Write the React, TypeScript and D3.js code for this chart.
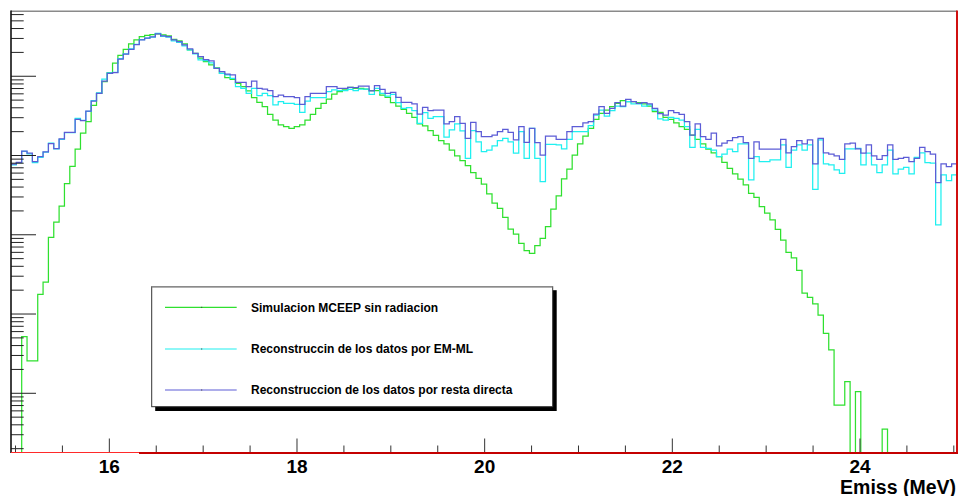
import React from 'react';
import * as d3 from 'd3';

// Histogram binning (Emiss, MeV) and log-axis range
const X_MIN = 14.952;
const X_MAX = 25.034;
const N_BINS = 177;
const Y_MIN = 1.79;
const Y_MAX = 6.6e5;

// Simulacion MCEEP sin radiacion (green)
const simulacionMCEEP = [
  0, 0, 51.8, 25.6, 25.6, 177, 253, 929, 1440, 2290,
  4410, 7320, 12000, 19100, 26700, 43000, 60900, 85300, 111000, 146000,
  184000, 219000, 256000, 287000, 316000, 329000, 335000, 342000, 332000, 323000,
  293000, 279000, 256000, 215000, 195000, 169000, 153000, 139000, 128000, 109000,
  95900, 91500, 81500, 73800, 65200, 53600, 46900, 41300, 33100, 28000,
  24300, 23100, 22000, 23100, 24300, 28000, 33100, 39400, 45600, 51600,
  59700, 63800, 67100, 72600, 70500, 70500, 69000, 65700, 65700, 58000,
  54300, 46400, 42100, 38300, 34100, 30300, 25000, 23600, 20600, 18000,
  15400, 14000, 11700, 9870, 8610, 7450, 6080, 5160, 4340, 3270,
  2500, 2160, 1660, 1180, 1020, 780, 629, 583, 727, 902,
  1270, 2100, 3090, 5060, 6710, 10100, 14000, 17600, 22000, 28600,
  34100, 37500, 41300, 45600, 49200, 47700, 47700, 46400, 44700, 42100,
  35700, 34900, 30300, 28600, 25900, 23100, 21400, 18100, 16000, 14000,
  12000, 10800, 9670, 8220, 6900, 5850, 5020, 4250, 3340, 2970,
  2260, 1870, 1540, 1170, 859, 600, 512, 356, 184, 162,
  134, 97.2, 57.2, 35.2, 7.11, 7.11, 14.0, 0, 10.5, 0,
  0, 0, 0, 3.54, 0, 0, 0, 0, 0, 0,
  0, 0, 0, 0, 0, 0, 0,
];

// Reconstruccin de los datos por EM-ML (cyan)
const reconstruccionEMML = [
  7600, 8120, 11300, 10500, 8120, 9500, 11000, 14300, 12100, 16000,
  19400, 19400, 29500, 27800, 36100, 49200, 61500, 92300, 110000, 112000,
  167000, 191000, 221000, 253000, 290000, 302000, 311000, 347000, 318000, 311000,
  279000, 267000, 241000, 215000, 191000, 161000, 157000, 148000, 126000, 109000,
  104000, 94200, 73800, 70500, 60900, 70500, 56800, 60900, 56800, 43400,
  47700, 45600, 45600, 44300, 35100, 48700, 53600, 53600, 53600, 63800,
  67100, 65700, 65700, 68400, 65700, 69000, 69000, 59200, 70500, 60900,
  56300, 59200, 46400, 39400, 40100, 36800, 25500, 34700, 29500, 30900,
  30900, 17000, 21000, 25000, 20400, 9230, 20600, 14900, 11200, 11700,
  13200, 15400, 16500, 14900, 10700, 20000, 9230, 22000, 9230, 4680,
  13800, 13800, 13600, 12100, 16000, 20000, 20000, 20000, 23800, 32400,
  37500, 31500, 36800, 42100, 41300, 47700, 44700, 44700, 42100, 43400,
  37500, 28900, 28000, 30300, 29500, 28000, 23100, 12700, 21400, 12700,
  12300, 11700, 9670, 10400, 12000, 11200, 14000, 14000, 4920, 9670,
  8360, 8360, 8790, 8790, 13600, 7110, 11700, 13600, 11700, 13600,
  3750, 15700, 7820, 7600, 6570, 5970, 12100, 12100, 12300, 7600,
  10700, 7600, 6080, 7600, 11700, 5850, 6710, 7110, 5850, 9500,
  10800, 8120, 7990, 1330, 5680, 4820, 5680,
];

// Reconstruccion de los datos por resta directa (blue)
const reconstruccionResta = [
  7760, 8220, 11400, 10700, 8360, 9670, 11100, 14100, 12200, 16200,
  19600, 19600, 28600, 27500, 36400, 48700, 60900, 87100, 109000, 111000,
  164000, 190000, 219000, 250000, 287000, 302000, 313000, 342000, 323000, 316000,
  287000, 273000, 248000, 221000, 195000, 177000, 162000, 156000, 126000, 114000,
  106000, 104000, 83900, 83900, 73800, 87100, 70500, 69000, 65700, 55200,
  58000, 55200, 55200, 53600, 44300, 55200, 60900, 60900, 60900, 73800,
  73800, 70500, 70500, 72600, 71700, 75300, 75300, 65200, 76000, 68400,
  60900, 62700, 54300, 46900, 46900, 44700, 33400, 40600, 36800, 37500,
  37500, 25000, 26700, 30900, 25500, 16500, 26200, 20000, 17300, 17300,
  18100, 20000, 21400, 19600, 15700, 23100, 14700, 22000, 14500, 10100,
  17600, 17600, 16000, 16000, 20000, 23100, 23100, 25900, 26700, 33400,
  41300, 34100, 39400, 46400, 42100, 51200, 47700, 45600, 46400, 44700,
  39400, 33700, 32400, 36800, 34700, 33100, 26700, 18100, 25000, 17300,
  16000, 19100, 13200, 14300, 15400, 16800, 17300, 14500, 9230, 14900,
  12000, 12000, 12000, 12000, 16000, 10800, 12900, 15400, 14000, 15700,
  7820, 16500, 10800, 10400, 9870, 8970, 14000, 14300, 12100, 10700,
  13600, 9870, 8970, 9950, 13600, 8970, 9230, 9500, 8360, 9230,
  12700, 11200, 10400, 4540, 7820, 7230, 7820,
];

const xMajorTicks = [16, 18, 20, 22, 24];
const xMinorTicks = [15, 15.5, 16.5, 17, 17.5, 18.5, 19, 19.5, 20.5, 21, 21.5, 22.5, 23, 23.5, 24.5, 25];
const xAxisTitle = 'Emiss (MeV)';
const legendLabels = [
  'Simulacion MCEEP sin radiacion',
  'Reconstruccin de los datos por EM-ML',
  'Reconstruccion de los datos por resta directa',
];
const seriesColors = ['#2fe02f', '#1ff0f0', '#5c5cd6'];

const W = 959;
const H = 496;
const L = 11;
const R = 957;
const T = 11.3;
const B = 452.5;
const FONT = "'Liberation Sans', Arial, Helvetica, sans-serif";

export default function App() {
  const x = d3.scaleLinear().domain([X_MIN, X_MAX]).range([L, R]);
  const y = d3.scaleLog().domain([Y_MIN, Y_MAX]).range([B, T]);
  const binW = (X_MAX - X_MIN) / N_BINS;

  const stepPath = (vals: number[]) => {
    const pts: [number, number][] = vals.map((v, i) => [X_MIN + i * binW, v]);
    pts.push([X_MAX, vals[vals.length - 1]]);
    return d3
      .line<[number, number]>()
      .x((d) => x(d[0]))
      .y((d) => y(Math.max(d[1], Y_MIN)))
      .curve(d3.curveStepAfter)(pts) as string;
  };

  const series = [simulacionMCEEP, reconstruccionEMML, reconstruccionResta];

  const yTicks: { v: number; major: boolean }[] = [];
  for (let e = 0; e <= 6; e++) {
    for (let m = 1; m <= 9; m++) {
      const v = m * Math.pow(10, e);
      if (v >= Y_MIN && v <= Y_MAX) yTicks.push({ v, major: m === 1 });
    }
  }

  const legX1 = 151.7;
  const legY1 = 286.7;
  const legW = 401;
  const legH = 120;
  const legRows = [307.3, 349, 390];
  const legTextY = [311.7, 352.8, 394.3];

  return (
    <svg
      width={W}
      height={H}
      style={{ position: 'absolute', left: 0, top: 0, background: '#fff' }}
      fontFamily={FONT}
    >
      <defs>
        <clipPath id="frameClip">
          <rect x={L} y={T} width={R - L} height={B - T} />
        </clipPath>
      </defs>
      <rect x={0} y={0} width={W} height={H} fill="#fff" />

      <g clipPath="url(#frameClip)">
        {series.map((s, i) => (
          <path key={i} d={stepPath(s)} fill="none" stroke={seriesColors[i]} strokeWidth={1.25} />
        ))}
      </g>

      {/* y ticks */}
      {yTicks.map((t, i) => (
        <line
          key={'yt' + i}
          x1={L}
          x2={L + (t.major ? 25 : 12.7)}
          y1={y(t.v)}
          y2={y(t.v)}
          stroke="#222"
          strokeWidth={1}
        />
      ))}

      {/* x ticks */}
      {xMinorTicks.map((t) => (
        <line key={'xm' + t} x1={x(t)} x2={x(t)} y1={B} y2={B - 7} stroke="#333" strokeWidth={1} />
      ))}
      {xMajorTicks.map((t) => (
        <line key={'xM' + t} x1={x(t)} x2={x(t)} y1={B} y2={B - 14} stroke="#333" strokeWidth={1} />
      ))}

      {/* frame */}
      <line x1={L} x2={R} y1={T} y2={T} stroke="#8a8a8a" strokeWidth={1.6} />
      <line x1={L} x2={L} y1={T - 0.8} y2={B + 0.5} stroke="#111" strokeWidth={1.6} />
      <line x1={R} x2={R} y1={T - 0.8} y2={B + 1} stroke="#d01010" strokeWidth={2} />
      <line x1={L} x2={139} y1={B} y2={B} stroke="#ff2a2a" strokeWidth={1.2} />
      <line x1={139} x2={R + 1} y1={B + 0.4} y2={B + 0.4} stroke="#c40000" strokeWidth={2} />

      {/* x labels */}
      {xMajorTicks.map((t) => (
        <text
          key={'xl' + t}
          x={x(t)}
          y={473}
          textAnchor="middle"
          fontSize={19}
          fontWeight="bold"
          fill="#000"
        >
          {t}
        </text>
      ))}
      <text x={956} y={493.5} textAnchor="end" fontSize={19.5} fontWeight="bold" fill="#000">
        {xAxisTitle}
      </text>

      {/* legend */}
      <rect x={legX1 + 3.5} y={legY1 + 3.5} width={legW + 0.5} height={legH + 0.8} fill="#000" />
      <rect x={legX1} y={legY1} width={legW} height={legH} fill="#fff" stroke="#333" strokeWidth={1} />
      <line x1={legX1} x2={legX1 + legW} y1={legY1} y2={legY1} stroke="#8a8a8a" strokeWidth={1.4} />
      {legendLabels.map((lab, i) => (
        <g key={'lg' + i}>
          <line x1={165} x2={236.7} y1={legRows[i]} y2={legRows[i]} stroke={seriesColors[i]} strokeWidth={1.2} />
          <rect x={201.2} y={legRows[i] - 0.5} width={1} height={1} fill="#333" />
          <text x={251} y={legTextY[i]} fontSize={12} fontWeight="bold" fill="#000">
            {lab}
          </text>
        </g>
      ))}
    </svg>
  );
}
